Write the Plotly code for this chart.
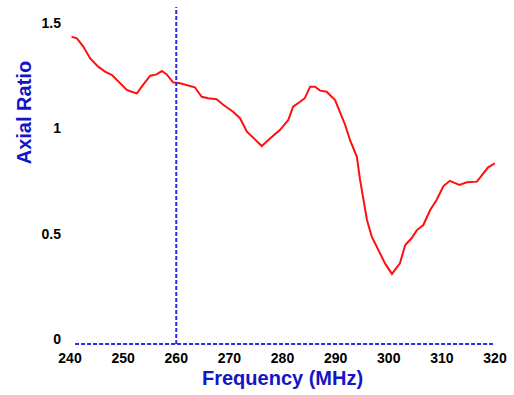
import plotly.graph_objects as go

# Frequency (MHz) and axial ratio
freq = [240.3, 241.3, 242.5, 243.8, 245.3, 246.6, 247.9, 249.4, 250.7, 251.6,
        252.6, 253.5, 255.1, 256.3, 257.3, 258.2, 259.4, 260.7, 262.3, 263.5,
        264.8, 266.0, 267.6, 268.9, 270.7, 272.0, 273.3, 274.5, 276.1, 277.7,
        279.5, 281.1, 282.0, 283.3, 284.2, 285.2, 286.1, 287.1, 288.3, 289.9,
        290.8, 291.8, 292.7, 294.0, 294.6, 295.2, 295.9, 296.8, 298.0, 299.3,
        300.6, 302.1, 303.1, 304.3, 305.3, 306.5, 307.8, 309.0, 310.3, 311.5,
        313.3, 314.7, 316.6, 317.5, 318.7, 320.0]
axial_ratio = [1.435, 1.427, 1.388, 1.332, 1.293, 1.269, 1.253, 1.214, 1.182, 1.174,
               1.166, 1.198, 1.250, 1.256, 1.272, 1.256, 1.218, 1.214, 1.202, 1.195,
               1.150, 1.143, 1.138, 1.111, 1.079, 1.048, 0.984, 0.953, 0.916, 0.953,
               0.992, 1.040, 1.103, 1.126, 1.143, 1.198, 1.198, 1.179, 1.174, 1.134,
               1.079, 1.016, 0.945, 0.865, 0.755, 0.660, 0.565, 0.486, 0.422, 0.359,
               0.309, 0.359, 0.446, 0.478, 0.517, 0.541, 0.612, 0.660, 0.726, 0.751,
               0.731, 0.744, 0.747, 0.778, 0.815, 0.834]

x_ticks = [240, 250, 260, 270, 280, 290, 300, 310, 320]
x_tick_text = ["240", "250", "260", "270", "280", "290", "300", "310", "320"]
y_ticks = [0, 0.5, 1, 1.5]
y_tick_text = ["0", "0.5", "1", "1.5"]
marker_freq = 260

x_title = "Frequency (MHz)"
y_title = "Axial Ratio"

fig = go.Figure()
fig.add_trace(go.Scatter(x=freq, y=axial_ratio, mode="lines",
                         line=dict(color="#ff1010", width=2), showlegend=False))

dash_color = "#2a2ae6"
fig.add_shape(type="line", xref="x", yref="paper", x0=marker_freq, x1=marker_freq,
              y0=0, y1=1, line=dict(color=dash_color, width=2, dash="4px,2px"))
fig.add_shape(type="line", xref="paper", yref="paper", x0=0.012, x1=0.995,
              y0=0, y1=0, line=dict(color=dash_color, width=2, dash="4px,2px"))

tick_font = dict(family="Liberation Sans, Arial", size=14, color="black", weight="bold")
title_font = dict(family="Liberation Sans, Arial", size=20, color="#1414c8", weight="bold")

fig.add_annotation(text=x_title, xref="paper", yref="paper", x=0.5, y=-0.101,
                   xanchor="center", yanchor="middle", showarrow=False, font=title_font)
fig.add_annotation(text=y_title, xref="paper", yref="paper", x=-0.108, y=0.685,
                   xanchor="center", yanchor="middle", textangle=-90,
                   showarrow=False, font=title_font)

fig.update_layout(
    width=514, height=395,
    margin=dict(l=70, r=19, t=7, b=51),
    paper_bgcolor="white", plot_bgcolor="white",
    xaxis=dict(range=[240, 320], tickvals=x_ticks, ticktext=x_tick_text,
               showgrid=False, zeroline=False, showline=False, ticks="",
               tickfont=tick_font, ticklabelstandoff=4, automargin=False),
    yaxis=dict(range=[-0.0237, 1.576], tickvals=y_ticks, ticktext=y_tick_text,
               showgrid=False, zeroline=False, showline=False, ticks="",
               tickfont=tick_font, ticklabelstandoff=8, automargin=False),
)

fig.write_html("out.html", config={"displayModeBar": False},
               post_script="document.body.style.margin='0';document.body.style.overflow='hidden';")
